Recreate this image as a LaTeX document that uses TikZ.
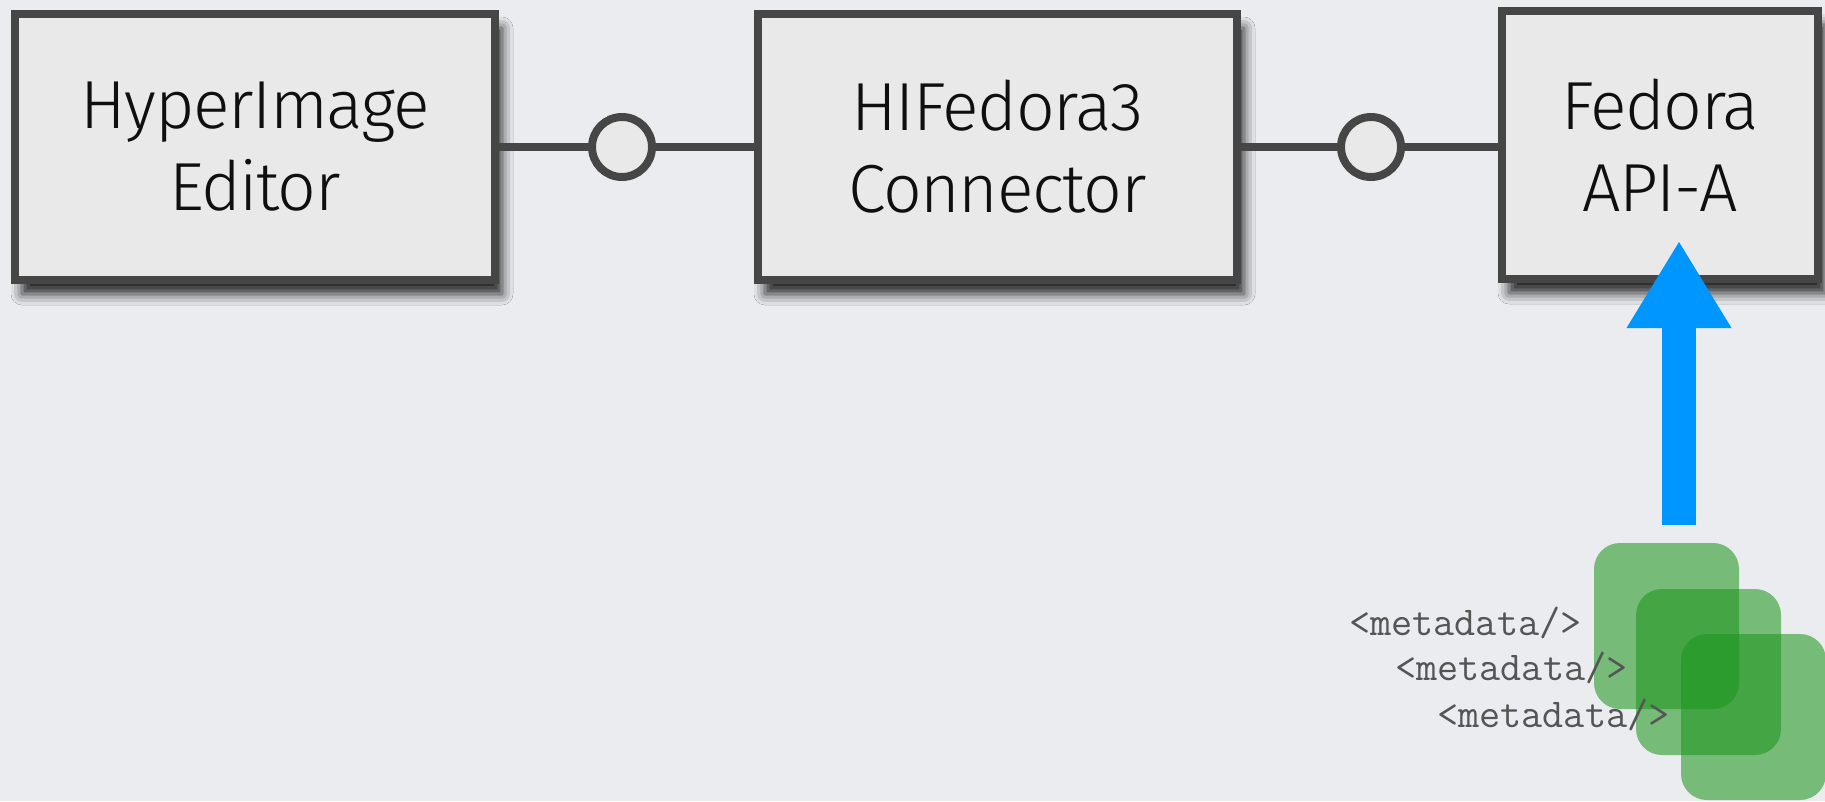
\documentclass[tikz,border=0pt]{standalone}
\usepackage{fontspec}
\setmainfont{Fira Sans Light}[LetterSpace=-2]
\usetikzlibrary{shadows.blur,arrows.meta}
\definecolor{bgc}{RGB}{234,236,240}
\definecolor{boxfill}{RGB}{233,233,233}
\definecolor{bordergray}{RGB}{70,70,70}
\definecolor{arrowblue}{RGB}{0,150,255}
\definecolor{greenc}{RGB}{30,150,30}
\definecolor{codegray}{RGB}{85,85,85}
\definecolor{labelc}{RGB}{15,15,15}
\tikzset{
  compbox/.style={draw=bordergray, line width=8pt, fill=boxfill, inner sep=0pt,
    align=center, text=labelc, font=\fontsize{68}{82}\selectfont,
    blur shadow={shadow xshift=7pt, shadow yshift=-14pt, shadow blur radius=11pt, shadow opacity=85}},
  iface/.style={circle, draw=bordergray, line width=8pt, fill=boxfill, minimum size=60pt, inner sep=0pt},
  wire/.style={draw=bordergray, line width=8pt},
  greensq/.style={fill=greenc, fill opacity=0.57, rounded corners=26pt, minimum width=145pt, minimum height=166pt, inner sep=0pt},
  codetext/.style={anchor=base west, inner sep=0pt, text=codegray, font=\ttfamily\fontsize{41}{41}\selectfont},
  bigarrow/.style={draw=arrowblue, line width=34pt, -{Triangle[width=105pt,length=86pt,line width=0pt]}}
}
\begin{document}
\begin{tikzpicture}[x=1pt,y=-1pt]
\fill[bgc] (0,0) rectangle (1825,801);
\useasboundingbox (0,0) rectangle (1825,801);

\node[compbox, minimum width=480pt, minimum height=266pt] (editor) at (255,147) {HyperImage\\Editor};
\node[compbox, minimum width=479pt, minimum height=266pt] (connector) at (997.5,147) {HIFedora3\\Connector};
\node[compbox, minimum width=316pt, minimum height=268pt] (api) at (1660,145) {Fedora\\API-A};

\node[iface] (c1) at (622,147) {};
\node[iface] (c2) at (1371,147) {};
\draw[wire] (editor.east) -- (c1.west);
\draw[wire] (c1.east) -- (connector.west);
\draw[wire] (connector.east) -- (c2.west);
\draw[wire] (c2.east) -- (api.west |- c2.east);

\node[greensq] (md1) at (1666.5,626) {};
\node[greensq] (md2) at (1708.5,672) {};
\node[greensq] (md3) at (1753.5,717) {};

\node[codetext] (t1) at (1349,635) {<metadata/>};
\node[codetext] (t2) at (1395,680) {<metadata/>};
\node[codetext] (t3) at (1437,727) {<metadata/>};

\coordinate (arrowstart) at (1679,525);
\coordinate (arrowtip) at (1679,242);
\draw[bigarrow] (arrowstart) -- (arrowtip);
\end{tikzpicture}
\end{document}
